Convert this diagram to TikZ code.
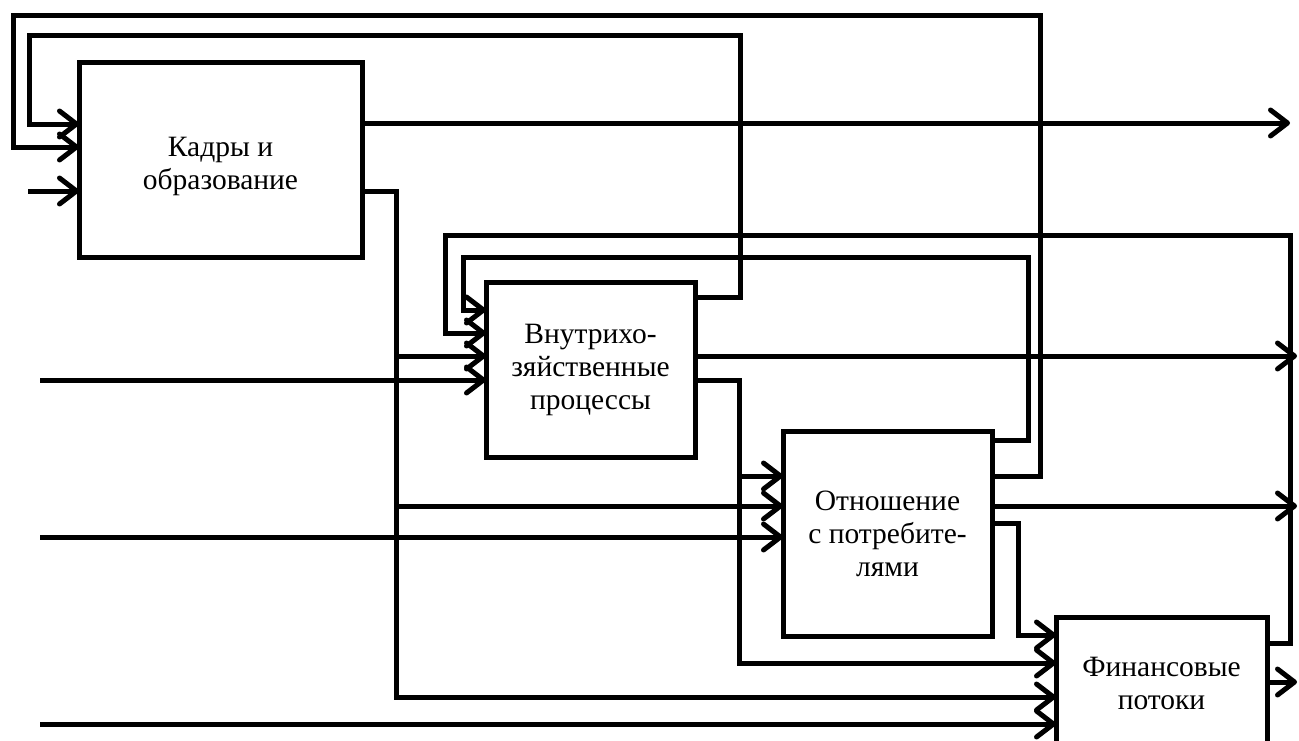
\documentclass[tikz,border=0pt]{standalone}
\usepackage{fontspec}
\setmainfont{Liberation Serif}
\usetikzlibrary{arrows.meta}
\begin{document}
\begin{tikzpicture}[x=1pt,y=-1pt,
  boxtext/.style={align=center,font=\fontsize{29.5}{33}\selectfont,inner sep=0pt,outer sep=0pt},
  box/.style={draw,line width=5pt,boxtext},
  wire/.style={line width=5pt},
  arr/.style={wire,-{Straight Barb[length=17pt,width=26pt,round]}}]
\useasboundingbox (0,0) rectangle (1299,740);
\clip (0,0) rectangle (1299,740);

% boxes
\node[box,minimum width=283pt,minimum height=195pt] (k) at (220.5,159.5) {};
\node[boxtext] (kt) at (220.5,166) {Кадры и\\образование};
\node[box,minimum width=209pt,minimum height=175pt] (v) at (590.5,369.5) {Внутрихо-\\зяйственные\\процессы};
\node[box,minimum width=209pt,minimum height=205pt] (o) at (887.5,533.5) {Отношение\\с потребите-\\лями};
\node[box,minimum width=211pt,minimum height=132pt] (f) at (1161.5,683) {Финансовые\\потоки};

% free ends
\coordinate (in1) at (28,191);
\coordinate (in2) at (40,380);
\coordinate (in3) at (40,537);
\coordinate (in4) at (40,724);
\coordinate (out1) at (1290,123);
\coordinate (out2) at (1297,356);
\coordinate (out3) at (1297,506);
\coordinate (out4) at (1297,682);

% inputs from the left
\draw[arr] (in1) -- (k.west |- in1);
\draw[arr] (in2) -- (v.west |- in2);
\draw[arr] (in3) -- (o.west |- in3);
\draw[arr] (in4) -- (f.west |- in4);

% outputs to the right
\draw[arr] (k.east |- out1) -- (out1);
\draw[arr] (v.east |- out2) -- (out2);
\draw[arr] (o.east |- out3) -- (out3);
\draw[arr] (f.east |- out4) -- (out4);

% feedback loops into box 1
\draw[arr] (o.east |- 0,476) -| (1040,15) -| (13,147) -- (k.west |- 0,147);
\draw[arr] (v.east |- 0,297) -| (740,35) -| (29,124) -- (k.west |- 0,124);

% feedback loops into box 2
\draw[arr] (o.east |- 0,440) -| (1028,257) -| (463,310) -- (v.west |- 0,310);
\draw[arr] (f.east |- 0,643) -| (1290,235) -| (445,333) -- (v.west |- 0,333);

% box 1 -> boxes 2,3,4
\draw[arr] (k.east |- 0,191) -| (396,697) -- (f.west |- 0,697);
\draw[arr] (396,356) -- (v.west |- 0,356);
\draw[arr] (396,506) -- (o.west |- 0,506);

% box 2 -> boxes 3,4
\draw[arr] (v.east |- 0,380) -| (739,663) -- (f.west |- 0,663);
\draw[arr] (739,476) -- (o.west |- 0,476);

% box 3 -> box 4
\draw[arr] (o.east |- 0,523) -| (1018,635) -- (f.west |- 0,635);
\end{tikzpicture}
\end{document}
